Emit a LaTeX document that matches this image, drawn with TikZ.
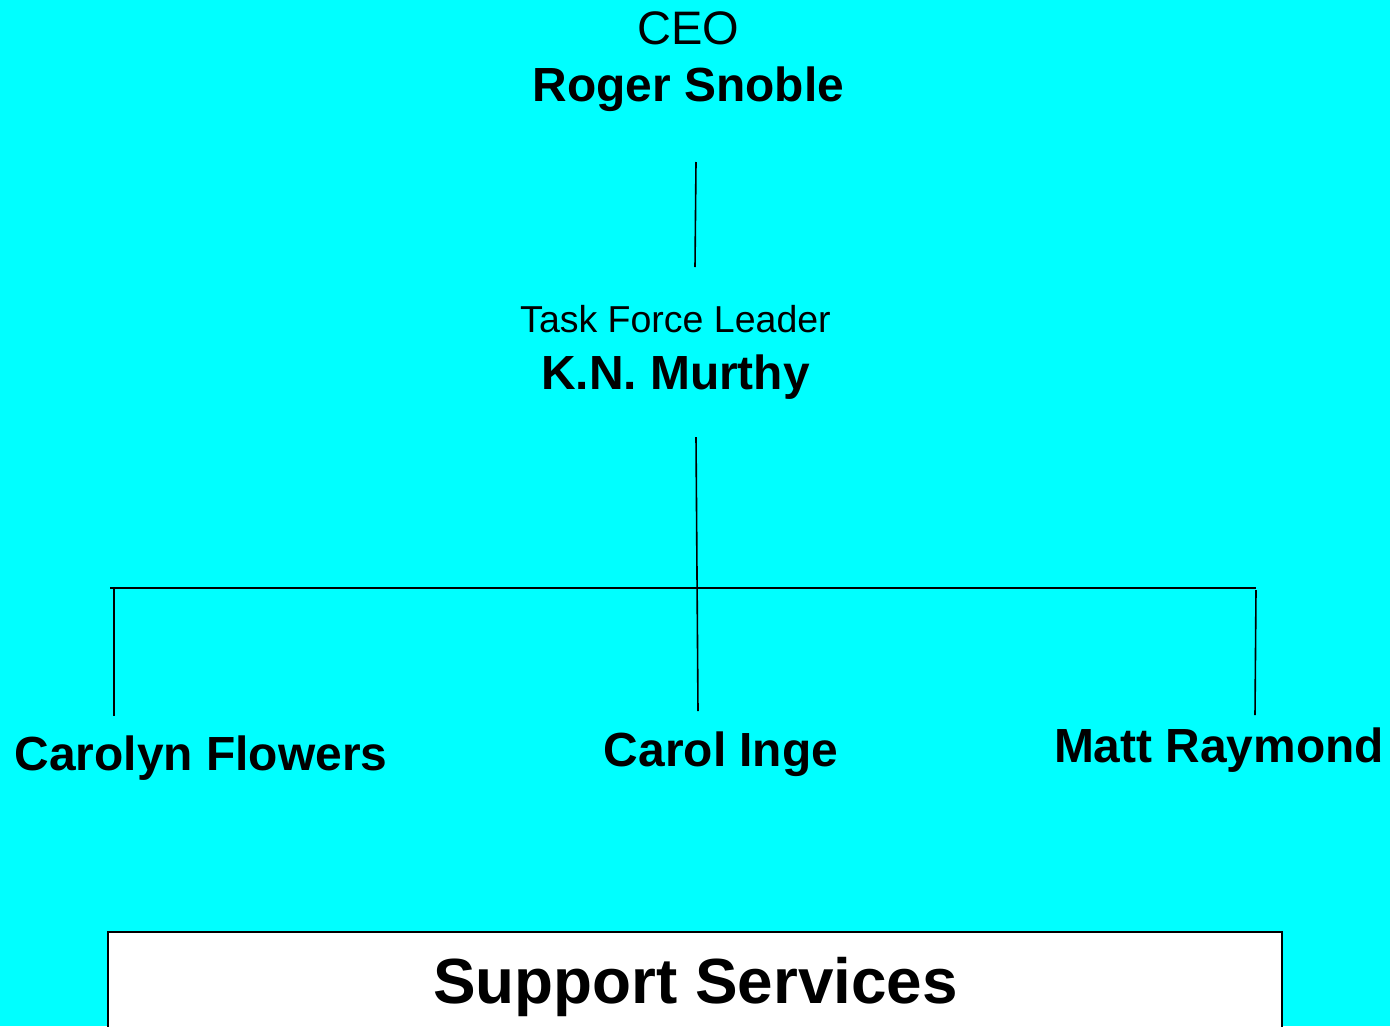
\documentclass[tikz,border=0pt]{standalone}
\usepackage{fontspec}
\setmainfont{Liberation Sans}
\definecolor{bgcyan}{HTML}{00FFFF}
\begin{document}
\begin{tikzpicture}[x=1pt,y=-1pt,
  lbl/.style={anchor=base,inner sep=0pt,text=black},
  reg/.style={lbl,font=\fontsize{47}{50}\selectfont},
  regs/.style={lbl,font=\fontsize{37.5}{40}\selectfont},
  bld/.style={lbl,font=\fontsize{47.9}{50}\selectfont\bfseries},
  big/.style={lbl,font=\fontsize{63.8}{66}\selectfont\bfseries},
  conn/.style={draw=black,line width=1.6pt}]
\useasboundingbox (0,0) rectangle (1390,1026);
\clip (0,0) rectangle (1390,1026);
\fill[bgcyan] (0,0) rectangle (1390,1026);
% texts
\node[reg] (ceo) at (688,44) {CEO};
\node[bld] (roger) at (688.5,101) {Roger Snoble};
\node[regs] (tfl) at (675.5,332) {Task Force Leader};
\node[bld] (murthy) at (675.5,389) {K.N. Murthy};
\node[bld] (carolyn) at (201,770) {Carolyn Flowers};
\node[bld] (carol) at (721,766) {Carol Inge};
\node[bld] (matt) at (1219,762) {Matt Raymond};
% support box
\draw[line width=1.6pt,fill=white] (108,932) rectangle (1282,1060);
\node[big] (support) at (695.5,1003) {Support Services};
% connector end points
\coordinate (a1) at (696,162);
\coordinate (a2) at (695,267);
\coordinate (b1) at (696,437);
\coordinate (b2) at (698,711);
\coordinate (hl) at (110,588);
\coordinate (hr) at (1256,588);
\coordinate (l1) at (114,588);
\coordinate (l2) at (114,716);
\coordinate (r1) at (1256,590);
\coordinate (r2) at (1255,715);
\draw[conn] (a1) -- (a2);
\draw[conn] (b1) -- (b2);
\draw[conn] (hl) -- (hr);
\draw[conn] (l1) -- (l2);
\draw[conn] (r1) -- (r2);
\end{tikzpicture}
\end{document}
